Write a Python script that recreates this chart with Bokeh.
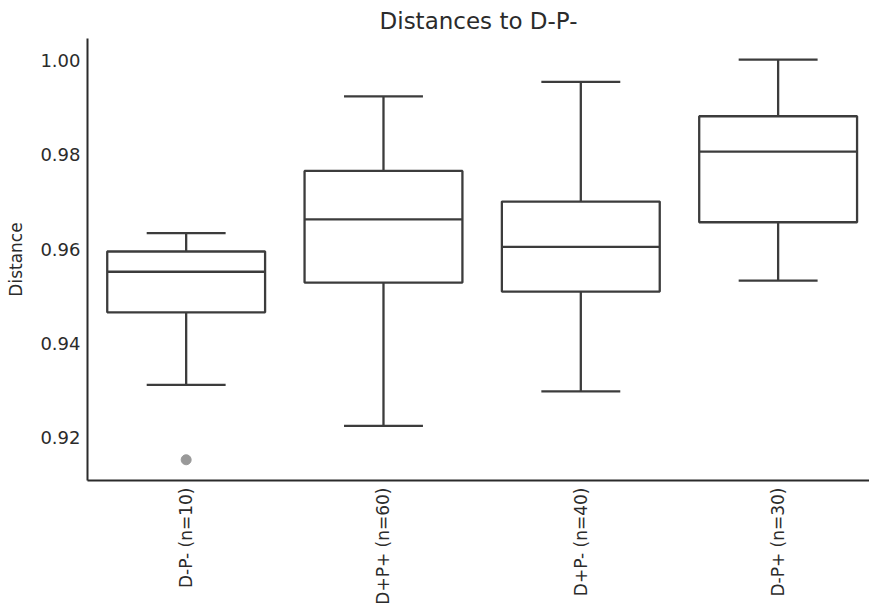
import numpy as np
from bokeh.plotting import figure
from bokeh.models import Range1d, FixedTicker, PrintfTickFormatter, ColumnDataSource
from bokeh.embed import file_html
from bokeh.resources import INLINE

# ---- data ----
categories = ["D-P- (n=10)", "D+P+ (n=60)", "D+P- (n=40)", "D-P+ (n=30)"]
whisker_low = [0.9312, 0.9225, 0.9298, 0.9533]
q1 = [0.9466, 0.9529, 0.9510, 0.9657]
median = [0.9552, 0.9663, 0.9605, 0.9807]
q3 = [0.9595, 0.9766, 0.9701, 0.9882]
whisker_high = [0.9634, 0.9924, 0.9955, 1.0002]
outlier_cat = [0]
outlier_val = [0.9153]
y_ticks = [0.92, 0.94, 0.96, 0.98, 1.00]

FONT = "DejaVu Sans"
TEXT = "#2b2b2b"
LINE = "#3c3c3c"

xs = list(range(len(categories)))
box_w = 0.8
cap_w = 0.4

src = ColumnDataSource(dict(
    x=xs, q1=q1, med=median, q3=q3, lo=whisker_low, hi=whisker_high,
    cl=[x - cap_w / 2 for x in xs], cr=[x + cap_w / 2 for x in xs],
    bl=[x - box_w / 2 for x in xs], br=[x + box_w / 2 for x in xs],
))

p = figure(width=869, height=607, output_backend="svg", toolbar_location=None,
           x_range=Range1d(-0.5, 3.463), y_range=Range1d(0.9109, 1.0047),
           min_border_left=87, min_border_right=0, min_border_top=38, min_border_bottom=127,
           title="Distances to D-P-")
p.outline_line_color = None
p.background_fill_color = "white"
p.border_fill_color = "white"
p.xgrid.visible = False
p.ygrid.visible = False

LW = 2.3
# whiskers
p.segment(x0="x", y0="q3", x1="x", y1="hi", source=src, line_color=LINE, line_width=LW)
p.segment(x0="x", y0="lo", x1="x", y1="q1", source=src, line_color=LINE, line_width=LW)
# caps
p.segment(x0="cl", y0="hi", x1="cr", y1="hi", source=src, line_color=LINE, line_width=LW)
p.segment(x0="cl", y0="lo", x1="cr", y1="lo", source=src, line_color=LINE, line_width=LW)
# boxes
p.vbar(x="x", width=box_w, bottom="q1", top="q3", source=src,
       fill_color="white", line_color=LINE, line_width=LW)
# medians
p.segment(x0="bl", y0="med", x1="br", y1="med", source=src, line_color=LINE, line_width=LW)
# outliers
p.scatter(x=outlier_cat, y=outlier_val, size=10, fill_color="#999999", line_color="#999999")

# title
p.title.text_font = FONT
p.title.text_font_size = "23px"
p.title.text_font_style = "normal"
p.title.text_color = TEXT
p.title.align = "center"
p.title.offset = 5

# axes
for ax in (p.xaxis[0], p.yaxis[0]):
    ax.major_tick_line_color = None
    ax.minor_tick_line_color = None
    ax.axis_line_color = TEXT
    ax.axis_line_width = 2
    ax.major_label_text_font = FONT
    ax.major_label_text_color = TEXT
    ax.major_tick_in = 0
    ax.major_tick_out = 0

p.yaxis.major_label_text_font_size = "18px"
p.xaxis.major_label_text_font_size = "17px"

p.xaxis.ticker = FixedTicker(ticks=xs)
p.xaxis.major_label_overrides = {i: c for i, c in enumerate(categories)}
p.xaxis.major_label_orientation = np.pi / 2
p.xaxis.major_label_standoff = 7

p.yaxis.ticker = FixedTicker(ticks=y_ticks)
p.yaxis.formatter = PrintfTickFormatter(format="%.2f")
p.yaxis.major_label_standoff = 7
p.yaxis.axis_label = "Distance"
p.yaxis.axis_label_text_font = FONT
p.yaxis.axis_label_text_font_size = "17px"
p.yaxis.axis_label_text_font_style = "normal"
p.yaxis.axis_label_text_color = TEXT
p.yaxis.axis_label_standoff = 11

open("out.html", "w").write(file_html(p, INLINE))
